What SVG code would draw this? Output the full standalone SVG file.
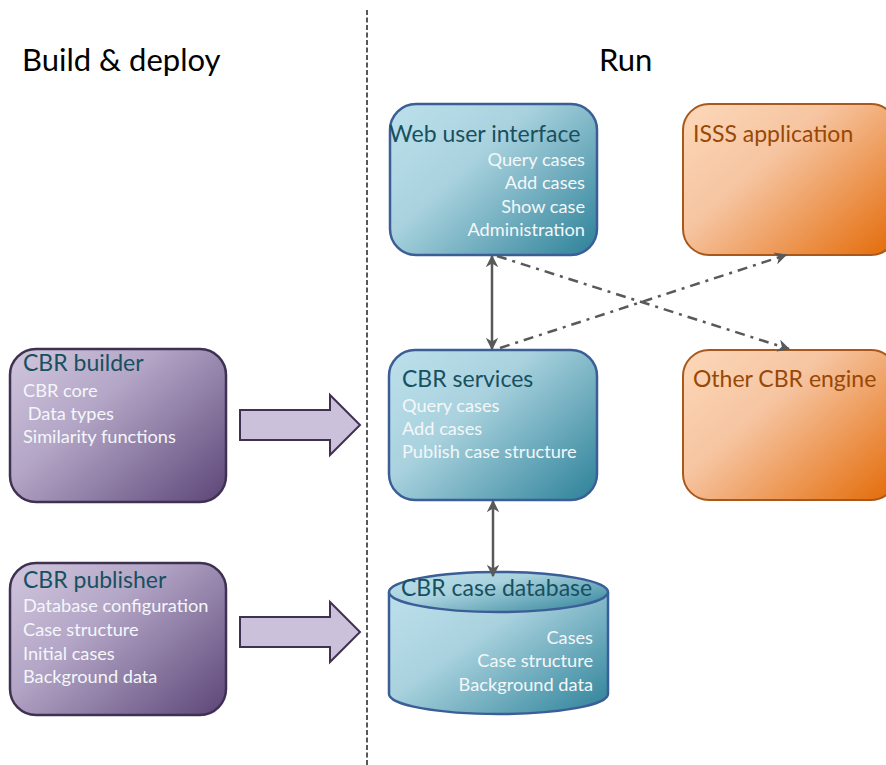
<svg xmlns="http://www.w3.org/2000/svg" width="886" height="765" viewBox="0 0 886 765">
  <style>
    text { font-family: Lato, "Liberation Sans", sans-serif; }
    .head { font-size: 31px; fill: #000; }
    .ttl { font-size: 23px; }
    .item { font-size: 18.2px; fill: #f4f7f9; }
    .blue { fill: url(#gBlue); stroke: #3b5e96; stroke-width: 2.5; }
    .orange { fill: url(#gOrange); stroke: #a9581a; stroke-width: 2; }
    .purple { fill: url(#gPurple); stroke: #3f3151; stroke-width: 2.5; }
    .tBlue { fill: #17505f; }
    .tOrange { fill: #984807; }
    .solid { stroke: #595959; stroke-width: 2.5; fill: none; marker-start: url(#ah); marker-end: url(#ah); }
    .dashdot { stroke: #595959; stroke-width: 2.5; fill: none; stroke-dasharray: 10 6 3 6; marker-end: url(#ah); }
    .block { fill: #ccc1da; stroke: #3f3151; stroke-width: 2; }
  </style>
  <defs>
    <linearGradient id="gBlue" x1="0" y1="0.15" x2="1" y2="0.95">
      <stop offset="0" stop-color="#b9dee9"/>
      <stop offset="0.35" stop-color="#a9d2de"/>
      <stop offset="1" stop-color="#31849b"/>
    </linearGradient>
    <linearGradient id="gOrange" x1="0" y1="0.15" x2="1" y2="0.95">
      <stop offset="0" stop-color="#fbd5b5"/>
      <stop offset="0.35" stop-color="#f6c4a0"/>
      <stop offset="1" stop-color="#e46c0a"/>
    </linearGradient>
    <linearGradient id="gPurple" x1="0" y1="0.15" x2="1" y2="0.95">
      <stop offset="0" stop-color="#ccc1da"/>
      <stop offset="0.35" stop-color="#b3a5c6"/>
      <stop offset="1" stop-color="#5f497a"/>
    </linearGradient>
    <marker id="ah" viewBox="0 0 10 10" refX="9" refY="5" markerWidth="5" markerHeight="5" orient="auto-start-reverse" markerUnits="strokeWidth">
      <path d="M0,0 L10,5 L0,10 L3,5 z" fill="#595959"/>
    </marker>
  </defs>

  <!-- section headings and divider -->
  <text class="head" x="22" y="71">Build &amp; deploy</text>
  <text class="head" x="599" y="71">Run</text>
  <line x1="367" y1="10" x2="367" y2="765" stroke="#222" stroke-width="1.5" stroke-dasharray="5 2.5"/>

  <!-- build-time components -->
  <g id="cbr-builder">
    <rect class="purple" x="10" y="349" width="216" height="153" rx="26"/>
    <text class="ttl tBlue" x="23" y="371">CBR builder</text>
    <text class="item" x="23" y="397">CBR core</text>
    <text class="item" x="23" y="420" xml:space="preserve"> Data types</text>
    <text class="item" x="23" y="443">Similarity functions</text>
  </g>
  <g id="cbr-publisher">
    <rect class="purple" x="10" y="563" width="216" height="152" rx="26"/>
    <text class="ttl tBlue" x="23" y="588">CBR publisher</text>
    <text class="item" x="23" y="612">Database configuration</text>
    <text class="item" x="23" y="636">Case structure</text>
    <text class="item" x="23" y="660">Initial cases</text>
    <text class="item" x="23" y="683">Background data</text>
  </g>

  <!-- deploy arrows -->
  <g id="deploy-arrows">
    <path class="block" d="M240,410 H330 V395 L360,425 L330,455 V440 H240 Z"/>
    <path class="block" d="M240,617 H330 V602 L360,632 L330,662 V647 H240 Z"/>
  </g>

  <!-- run-time components -->
  <g id="web-ui">
    <rect class="blue" x="390" y="104" width="207" height="151" rx="26"/>
    <text class="ttl tBlue" x="389" y="142">Web user interface</text>
    <g text-anchor="end">
      <text class="item" x="585" y="166">Query cases</text>
      <text class="item" x="585" y="189">Add cases</text>
      <text class="item" x="585" y="213">Show case</text>
      <text class="item" x="585" y="236">Administration</text>
    </g>
  </g>
  <g id="isss-application">
    <rect class="orange" x="683" y="104" width="214" height="151" rx="26"/>
    <text class="ttl tOrange" x="693" y="142">ISSS application</text>
  </g>
  <g id="cbr-services">
    <rect class="blue" x="389" y="350" width="208" height="150" rx="26"/>
    <text class="ttl tBlue" x="402" y="387">CBR services</text>
    <text class="item" x="402" y="412">Query cases</text>
    <text class="item" x="402" y="435">Add cases</text>
    <text class="item" x="402" y="458">Publish case structure</text>
  </g>
  <g id="other-cbr-engine">
    <rect class="orange" x="683" y="350" width="214" height="150" rx="26"/>
    <text class="ttl tOrange" x="693" y="387">Other CBR engine</text>
  </g>
  <g id="case-database">
    <path class="blue" d="M389,592 V694 A109.5,20 0 0 0 608,694 V592"/>
    <ellipse class="blue" cx="498.5" cy="592" rx="109.5" ry="20"/>
    <text class="ttl tBlue" x="401" y="596">CBR case database</text>
    <g text-anchor="end">
      <text class="item" x="593" y="644">Cases</text>
      <text class="item" x="593" y="667">Case structure</text>
      <text class="item" x="593" y="691">Background data</text>
    </g>
  </g>

  <!-- connectors -->
  <g id="connectors">
    <line class="solid" x1="492" y1="256" x2="492" y2="349"/>
    <line class="solid" x1="493" y1="501" x2="493" y2="576"/>
    <line class="dashdot" x1="497" y1="256" x2="789" y2="349"/>
    <line class="dashdot" x1="500" y1="348" x2="786" y2="255"/>
  </g>
</svg>
